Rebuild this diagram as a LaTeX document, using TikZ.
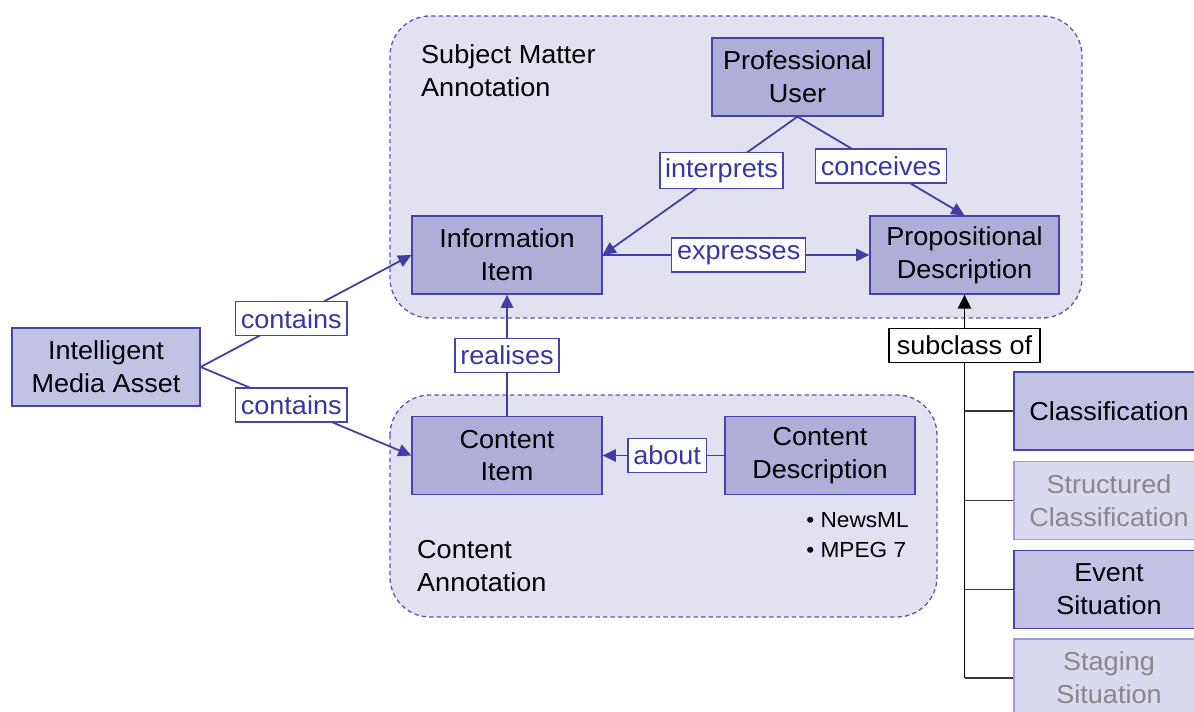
\documentclass[tikz,border=0pt]{standalone}
\usepackage{fontspec}
\setmainfont{Liberation Sans}[FakeStretch=1.04]
\usetikzlibrary{arrows.meta}

\definecolor{grpfill}{HTML}{E1E1F0}
\definecolor{grpline}{HTML}{5A5AB4}
\definecolor{boxfill}{HTML}{AEAED9}
\definecolor{lightfill}{HTML}{C2C2E4}
\definecolor{boxline}{HTML}{4444AA}
\definecolor{fadefill}{HTML}{DADAEE}
\definecolor{fadeline}{HTML}{9C9CD8}
\definecolor{fadetext}{HTML}{888888}
\definecolor{linecol}{HTML}{3E3EA4}
\definecolor{lbltext}{HTML}{3636A6}
\definecolor{trunkcol}{HTML}{383838}
\newcommand\figfont{\fontsize{14.8}{18.6}\selectfont}

\begin{document}
\begin{tikzpicture}[x=0.02cm,y=-0.02cm]
\useasboundingbox (0,0) rectangle (1194,712);
\clip (0,0) rectangle (1194,712);

\begin{scope}[draw=grpline, fill=grpfill, line width=0.75pt,
              dash pattern=on 2.5pt off 1.8pt, rounded corners=0.8cm]
    \path[draw,fill] (390,16) rectangle (1082,318);
    \path[draw,fill] (390,395) rectangle (937,617);
\end{scope}

\begin{scope}[every node/.style={font=\figfont, align=left, anchor=west}]
    \node (smlabel) at (415,71) {Subject Matter\\Annotation};
    \node (calabel) at (411,566) {Content\\Annotation};
    \node[font=\fontsize{12.4}{17}\selectfont, inner sep=0pt] (formats) at (806,535)
        {\textbullet\ NewsML\\\textbullet\ MPEG 7};
\end{scope}

\begin{scope}[every node/.style={draw=boxline, fill=boxfill, line width=0.75pt,
              minimum width=3.8cm, minimum height=1.56cm, align=center, font=\figfont}]
    \node[minimum width=3.42cm] (user) at (797.5,77) {Professional\\User};
    \node (info) at (507,255) {Information\\Item};
    \node[minimum width=3.78cm] (prop) at (964.5,255) {Propositional\\Description};
    \node (citem) at (507,455.5) {Content\\Item};
    \node (cdesc) at (820,455.5) {Content\\Description};
    \node[fill=lightfill, minimum width=3.76cm] (asset) at (106,367) {Intelligent\\Media Asset};
    \node[fill=lightfill] (cls) at (1109,411) {Classification};
    \node[draw=fadeline, fill=fadefill, text=fadetext] (scls) at (1109,500.5) {Structured\\Classification};
    \node[fill=lightfill] (evt) at (1109,589.5) {Event\\Situation};
    \node[draw=fadeline, fill=fadefill, text=fadetext] (stg) at (1109,678) {Staging\\Situation};
\end{scope}

\begin{scope}[every node/.style={draw=boxline, fill=white, text=lbltext, line width=0.75pt,
              inner xsep=3pt, minimum height=0.68cm, font=\figfont},
              every edge/.style={draw=linecol, line width=1pt,
              -{Triangle[length=7.5pt,width=7pt]}}]
    \path (asset.east) edge node[pos=0.43] {contains} (info.west);
    \path (asset.east) edge node[pos=0.43] {contains} (citem.west);
    \path (user.south) edge node[pos=0.39] {interprets} (info.east);
    \path (user.south) edge node[pos=0.5] {conceives} (prop.north);
    \path (info.east) edge node[pos=0.51] {expresses} (prop.west);
    \path (citem.north) edge node[pos=0.5] {realises} (info.south);
    \path (cdesc.west) edge node[pos=0.47] {about} (citem.east);
\end{scope}

\coordinate (trunk) at (prop.south |- stg.west);
\begin{scope}[every node/.style={draw=black, fill=white, line width=0.75pt,
              minimum width=3.02cm, minimum height=0.68cm, font=\figfont},
              every edge/.style={draw=trunkcol, line width=1.1pt}]
    \path (trunk) edge[-{Triangle[length=8pt,width=7.5pt]}, draw=black]
        node[pos=0.868] {subclass of} (prop.south);
    \path (cls.west -| trunk) edge (cls.west);
    \path (scls.west -| trunk) edge (scls.west);
    \path (evt.west -| trunk) edge (evt.west);
    \path (trunk) edge (stg.west);
\end{scope}
\end{tikzpicture}
\end{document}
